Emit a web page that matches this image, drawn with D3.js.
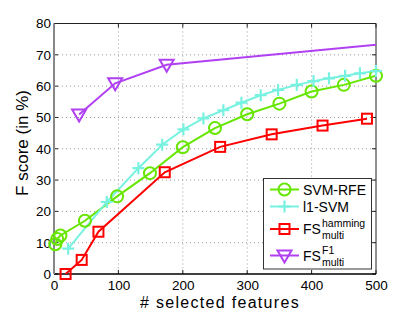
<!DOCTYPE html>
<html><head><meta charset="utf-8">
<script src="https://cdn.jsdelivr.net/npm/d3@7"></script>
<style>body{margin:0;background:#fff}svg{display:block;font-family:"Liberation Sans",Arial,sans-serif}</style>
</head><body><svg id="c" width="415" height="312"></svg>
<script>
const xTicks = [0,100,200,300,400,500];
const yTicks = [0,10,20,30,40,50,60,70,80];
const rfeX = [2,5,10,48,98,149,200,250,300,350,400,450,500];
const rfeY = [9.5,11.2,12.3,17,24.8,32.2,40.5,46.6,51,54.4,58.3,60.4,63.3];
const l1X = [22,82,131,168,201,232,263,291,321,348,377,403,427,452,475,500];
const l1Y = [8.1,23,33.8,41.3,46.2,49.7,52.3,54.7,57.1,58.8,60.4,61.6,62.5,63.3,64.1,64.8];
const hamX = [18,43,69,172,258,338,417,486];
const hamY = [0,4.5,13.5,32.5,40.6,44.6,47.4,49.6];
const f1X = [39,95,175,600];
const f1Y = [50.9,60.9,66.8,75.2];
const names = ["SVM-RFE","l1-SVM","FS","FS"];

const svg = d3.select("#c");
const L=54,R=376,T=23.5,B=274;
const x = d3.scaleLinear().domain([0,500]).range([L,R]);
const y = d3.scaleLinear().domain([0,80]).range([B,T]);

svg.append("defs").append("clipPath").attr("id","clip").append("rect")
  .attr("x",L).attr("y",T).attr("width",R-L).attr("height",B-T);

// grid
const g = svg.append("g");
xTicks.filter(d=>d>0&&d<500).forEach(d=>g.append("line").attr("x1",x(d)).attr("x2",x(d)).attr("y1",T).attr("y2",B)
  .attr("stroke","#9a9a9a").attr("stroke-width",1).attr("stroke-dasharray","1,3"));
yTicks.filter(d=>d>0&&d<80).forEach(d=>g.append("line").attr("x1",L).attr("x2",R).attr("y1",y(d)).attr("y2",y(d))
  .attr("stroke","#9a9a9a").attr("stroke-width",1).attr("stroke-dasharray","1,3"));

// axes
const ax = svg.append("g").attr("transform",`translate(0,${B})`).call(d3.axisBottom(x).tickValues(xTicks).tickSize(0).tickPadding(6));
const ay = svg.append("g").attr("transform",`translate(${L},0)`).call(d3.axisLeft(y).tickValues(yTicks).tickSize(0).tickPadding(3));
[ax,ay].forEach(a=>{a.select(".domain").remove();a.selectAll("text").attr("font-size",13.5).attr("fill","#000")
  .attr("font-family","Liberation Sans, Arial, sans-serif");});
// inward ticks
xTicks.forEach(d=>{g.append("line").attr("x1",x(d)).attr("x2",x(d)).attr("y1",B).attr("y2",B-4).attr("stroke","#222");
  g.append("line").attr("x1",x(d)).attr("x2",x(d)).attr("y1",T).attr("y2",T+4).attr("stroke","#222");});
yTicks.forEach(d=>{g.append("line").attr("x1",L).attr("x2",L+4).attr("y1",y(d)).attr("y2",y(d)).attr("stroke","#222");
  g.append("line").attr("x1",R).attr("x2",R-4).attr("y1",y(d)).attr("y2",y(d)).attr("stroke","#222");});
svg.append("line").attr("x1",L).attr("x2",R).attr("y1",T).attr("y2",T).attr("stroke","#222");
svg.append("line").attr("x1",R).attr("x2",R).attr("y1",T).attr("y2",B).attr("stroke","#222");
svg.append("line").attr("x1",L).attr("x2",R).attr("y1",B).attr("y2",B).attr("stroke","#000").attr("stroke-width",1.5);
svg.append("line").attr("x1",L).attr("x2",L).attr("y1",T).attr("y2",B).attr("stroke","#888").attr("stroke-width",2);

// series
const series = [
  {xs:rfeX,ys:rfeY,c:"#66e600",m:"circle"},
  {xs:l1X,ys:l1Y,c:"#78f2e0",m:"plus"},
  {xs:hamX,ys:hamY,c:"#ff0000",m:"square"},
  {xs:f1X,ys:f1Y,c:"#b040f2",m:"tri"}
];
function marker(sel,m,cx,cy,c){
  if(m==="circle") sel.append("circle").attr("cx",cx).attr("cy",cy).attr("r",6).attr("fill","none").attr("stroke",c).attr("stroke-width",2);
  else if(m==="plus") sel.append("path").attr("d",`M${cx-6},${cy}H${cx+6}M${cx},${cy-6}V${cy+6}`).attr("stroke",c).attr("stroke-width",2.2);
  else if(m==="square") sel.append("rect").attr("x",cx-5).attr("y",cy-5).attr("width",10).attr("height",10).attr("fill","none").attr("stroke",c).attr("stroke-width",2);
  else sel.append("path").attr("d",`M${cx-7},${cy-5}L${cx+7},${cy-5}L${cx},${cy+7}Z`).attr("fill","none").attr("stroke",c).attr("stroke-width",2);
}
const plot = svg.append("g").attr("clip-path","url(#clip)");
const line = d3.line().x(d=>x(d[0])).y(d=>y(d[1]));
const mk = svg.append("g");
series.forEach(s=>{
  const pts = s.xs.map((v,i)=>[v,s.ys[i]]);
  plot.append("path").attr("d",line(pts)).attr("fill","none").attr("stroke",s.c).attr("stroke-width",2);
  pts.filter(p=>p[0]<=500).forEach(p=>marker(mk,s.m,x(p[0]),y(p[1]),s.c));
});

// labels
svg.append("text").attr("x",(L+R)/2 + 5).attr("y",307.5).attr("text-anchor","middle").attr("font-size",16)
  .attr("letter-spacing",1.3).text("# selected features");
svg.append("text").attr("transform",`translate(28,143) rotate(-90)`).attr("text-anchor","middle").attr("font-size",17).text("F score (in %)");

// legend
const lg = svg.append("g");
lg.append("rect").attr("x",263.5).attr("y",178.5).attr("width",108).attr("height",90.5).attr("fill","#fff").attr("stroke","#333").attr("stroke-width",1);
const ly = [189.5,206.5,229,255.5];
series.forEach((s,i)=>{
  lg.append("line").attr("x1",270).attr("x2",299).attr("y1",ly[i]).attr("y2",ly[i]).attr("stroke",s.c).attr("stroke-width",2);
  marker(lg,s.m,284.5,ly[i],s.c);
});
const tx = 303;
lg.append("text").attr("x",tx).attr("y",ly[0]+5).attr("font-size",14).text(names[0]);
lg.append("text").attr("x",tx).attr("y",ly[1]+5).attr("font-size",14).text(names[1]);
[[2,"hamming"],[3,"F1"]].forEach(([i,sup])=>{
  const t = lg.append("text").attr("x",tx).attr("y",ly[i]+5).attr("font-size",14);
  t.append("tspan").text(names[i]);
  const bx = tx + 19;
  lg.append("text").attr("x",bx).attr("y",ly[i]-2).attr("font-size",10.5).text(sup);
  lg.append("text").attr("x",bx).attr("y",ly[i]+10).attr("font-size",10.5).text("multi");
});
</script></body></html>
